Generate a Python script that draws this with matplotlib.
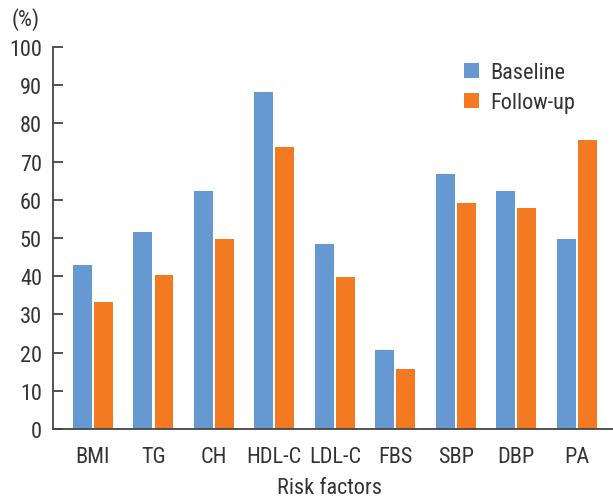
import matplotlib
matplotlib.use("Agg")
import matplotlib.pyplot as plt
import numpy as np
from matplotlib import font_manager

categories = ["BMI", "TG", "CH", "HDL-C", "LDL-C", "FBS", "SBP", "DBP", "PA"]
baseline = [43.0, 51.6, 62.4, 88.3, 48.5, 20.7, 66.8, 62.4, 49.8]
followup = [33.3, 40.3, 49.8, 73.9, 39.8, 15.7, 59.2, 57.9, 75.7]
yticks = [0, 10, 20, 30, 40, 50, 60, 70, 80, 90, 100]

names = {f.name for f in font_manager.fontManager.ttflist}
fam = "Roboto"
for cand in ["Roboto Condensed", "Liberation Sans Narrow", "Open Sans Condensed", "Roboto"]:
    if cand in names:
        fam = cand
        break
plt.rcParams["font.family"] = [fam, "DejaVu Sans"]
fs = 14 if fam == "Roboto" else 16

txt = "#333333"
fig = plt.figure(figsize=(6.13, 5.02), dpi=100)
ax = fig.add_axes([53/613, 1-430/502, 560/613, (430-48)/502])

x = np.arange(len(categories))
w = 0.31
ax.bar(x - 0.174, baseline, w, color="#6699D1", label="Baseline")
ax.bar(x + 0.174, followup, w, color="#F47A22", label="Follow-up")

ax.set_xlim(-0.66, 8.6)
ax.set_ylim(0, 100)
ax.set_yticks(yticks)
ax.set_xticks(x)
ax.set_xticklabels(categories)
for s in ["top", "right"]:
    ax.spines[s].set_visible(False)
for s in ["left", "bottom"]:
    ax.spines[s].set_color("#444444")
    ax.spines[s].set_linewidth(1.3)
ax.tick_params(axis="y", direction="in", length=7, width=1.3, color="#444444",
               labelsize=fs, labelcolor=txt, pad=8)
ax.tick_params(axis="x", length=0, labelsize=fs, labelcolor=txt, pad=12)
fig.text(0.5 * (53 + 613) / 613 - 0.005, 1 - 489/502, "Risk factors", fontsize=fs,
         color=txt, ha="center", va="center")
fig.text(12/613, 1-20/502, "(%)", fontsize=fs, color=txt, va="center", ha="left")

leg = ax.legend(loc="upper left", bbox_to_anchor=(0.71, 0.995), frameon=False,
                fontsize=fs, handlelength=0.7, handleheight=0.7, handletextpad=0.5,
                labelspacing=0.4, borderaxespad=0.2)
for t in leg.get_texts():
    t.set_color(txt)

fig.savefig("out.png", dpi=100)
